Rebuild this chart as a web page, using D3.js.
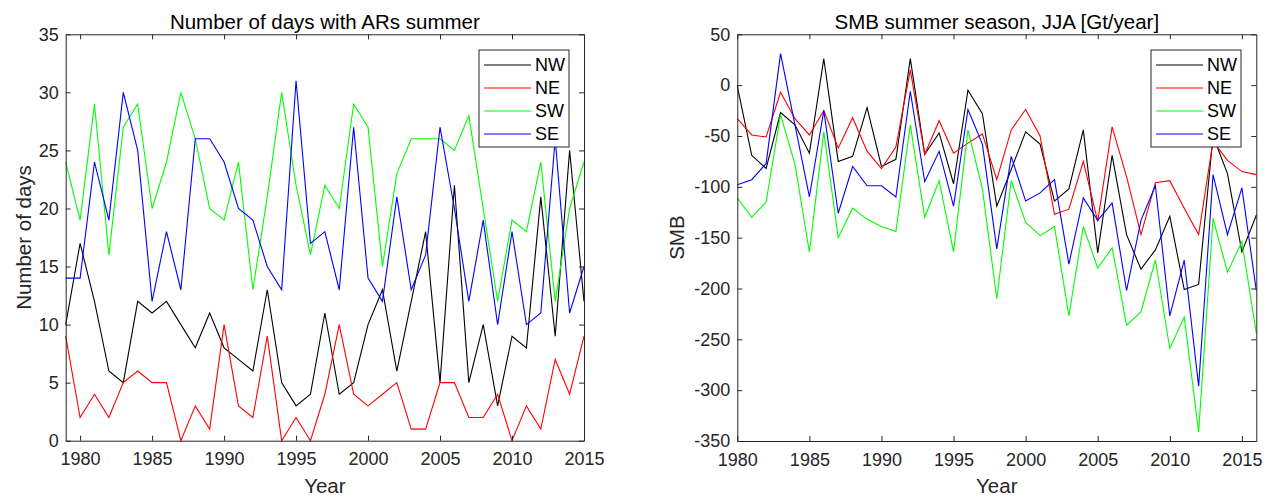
<!DOCTYPE html>
<html>
<head>
<meta charset="utf-8">
<script src="https://d3js.org/d3.v7.min.js"></script>
<style>
body { margin: 0; background: #fff; }
svg { display: block; font-family: 'Liberation Sans', Arial, sans-serif; }
.tick text { fill: #262626; }
</style>
</head>
<body>
<svg id="chart"></svg>
<script>

var width = 1278;
var height = 497;

// Left panel: number of AR days, 1979-2015
var yearsDays = d3.range(1979, 2016);
var daysNW = [10,17,12,6,5,12,11,12,10,8,11,8,7,6,13,5,3,4,11,4,5,10,13,6,12,18,5,22,5,10,3,9,8,21,9,25,12];
var daysNE = [9,2,4,2,5,6,5,5,0,3,1,10,3,2,9,0,2,0,4,10,4,3,4,5,1,1,5,5,2,2,4,0,3,1,7,4,9];
var daysSW = [24,19,29,16,27,29,20,24,30,26,20,19,24,13,21,30,22,16,22,20,29,27,15,23,26,26,26,25,28,20,12,19,18,24,12,20,24];
var daysSE = [14,14,24,19,30,25,12,18,13,26,26,24,20,19,15,13,31,17,18,13,27,14,12,21,13,16,27,20,12,19,10,18,10,11,26,11,15];

// Right panel: summer SMB, 1980-2016
var yearsSMB = d3.range(1980, 2017);
var smbNW = [-1,-69,-82,-27,-39,-67,26,-75,-70,-22,-80,-73,26,-68,-47,-97,-5,-28,-119,-83,-46,-58,-114,-102,-44,-165,-69,-147,-181,-162,-129,-201,-196,-50,-87,-164,-128];
var smbNE = [-33,-49,-51,-7,-33,-49,-25,-62,-32,-65,-82,-61,15,-68,-35,-67,-57,-48,-93,-44,-24,-50,-127,-122,-75,-134,-41,-90,-147,-96,-94,-121,-147,-55,-74,-85,-88];
var smbSW = [-111,-130,-115,-29,-78,-164,-46,-150,-121,-132,-139,-144,-39,-130,-94,-164,-44,-102,-210,-94,-135,-148,-139,-227,-139,-180,-160,-236,-223,-172,-259,-228,-341,-131,-184,-154,-244];
var smbSE = [-98,-93,-77,31,-39,-110,-25,-126,-80,-99,-99,-110,-6,-95,-65,-119,-24,-58,-161,-70,-114,-106,-93,-176,-111,-133,-116,-202,-133,-99,-227,-172,-296,-88,-147,-101,-202];

var regions = ["NW", "NE", "SW", "SE"];
var colors = { "NW": "#000000", "NE": "#ff0000", "SW": "#00ff00", "SE": "#0000ff" };

var svg = d3.select("#chart").attr("width", width).attr("height", height);
svg.append("rect").attr("width", width).attr("height", height).attr("fill", "#fff");

function drawPanel(p) {
	var x = d3.scaleLinear().domain(p.xDomain).range([p.left, p.right]);
	var y = d3.scaleLinear().domain(p.yDomain).range([p.bottom, p.top]);
	var g = svg.append("g");

	// series lines
	var line = d3.line().x(function (d) { return x(d[0]); }).y(function (d) { return y(d[1]); });
	regions.forEach(function (r) {
		var pts = p.years.map(function (yr, i) { return [yr, p.series[r][i]]; });
		g.append("path").datum(pts)
			.attr("d", line)
			.attr("fill", "none")
			.attr("stroke", colors[r])
			.attr("stroke-width", 1.1);
	});

	// axes with inward ticks on all four sides (matlab box)
	var bottom = g.append("g").attr("transform", "translate(0," + p.bottom + ")")
		.call(d3.axisBottom(x).tickValues(p.xTicks).tickSizeInner(-5).tickSizeOuter(0).tickPadding(12).tickFormat(d3.format("d")));
	var top = g.append("g").attr("transform", "translate(0," + p.top + ")")
		.call(d3.axisTop(x).tickValues(p.xTicks).tickSizeInner(-5).tickSizeOuter(0).tickFormat(""));
	var left = g.append("g").attr("transform", "translate(" + p.left + ",0)")
		.call(d3.axisLeft(y).tickValues(p.yTicks).tickSizeInner(-5).tickSizeOuter(0).tickPadding(7).tickFormat(function (d) { return String(d); }));
	var right = g.append("g").attr("transform", "translate(" + p.right + ",0)")
		.call(d3.axisRight(y).tickValues(p.yTicks).tickSizeInner(-5).tickSizeOuter(0).tickFormat(""));

	[bottom, top, left, right].forEach(function (a) {
		a.select(".domain").attr("stroke", "#262626").attr("stroke-width", 1);
		a.selectAll(".tick line").attr("stroke", "#262626");
		a.selectAll(".tick text").attr("font-size", 18).attr("font-family", "'Liberation Sans', Arial, sans-serif");
	});

	// title and axis labels
	var cx = (p.left + p.right) / 2;
	var cy = (p.top + p.bottom) / 2;
	g.append("text").attr("x", cx).attr("y", 29).attr("text-anchor", "middle")
		.attr("font-size", 20.5).attr("fill", "#000").text(p.title);
	g.append("text").attr("x", cx).attr("y", 493).attr("text-anchor", "middle")
		.attr("font-size", 20.5).attr("fill", "#262626").text("Year");
	g.append("text").attr("transform", "translate(" + p.yLabelX + "," + cy + ") rotate(-90)")
		.attr("text-anchor", "middle").attr("font-size", 20.5).attr("fill", "#262626").text(p.yLabel);

	// legend box (opaque, covers lines)
	var lg = g.append("g").attr("transform", "translate(" + p.legendX + ",50)");
	lg.append("rect").attr("width", 90).attr("height", 97)
		.attr("fill", "#fff").attr("stroke", "#262626").attr("stroke-width", 1);
	regions.forEach(function (r, i) {
		var ly = 15 + i * 23;
		lg.append("line").attr("x1", 5).attr("x2", 52).attr("y1", ly).attr("y2", ly)
			.attr("stroke", colors[r]).attr("stroke-width", 1.1);
		lg.append("text").attr("x", 56).attr("y", ly).attr("dy", "0.35em")
			.attr("font-size", 18).attr("fill", "#000").text(r);
	});
}

drawPanel({
	left: 65.7, right: 584, top: 34.3, bottom: 440.7,
	xDomain: [1979, 2015], yDomain: [0, 35],
	xTicks: d3.range(1980, 2016, 5), yTicks: d3.range(0, 36, 5),
	years: yearsDays,
	series: { "NW": daysNW, "NE": daysNE, "SW": daysSW, "SE": daysSE },
	title: "Number of days with ARs summer",
	yLabel: "Number of days", yLabelX: 31,
	legendX: 479
});

drawPanel({
	left: 737.3, right: 1256.3, top: 34.3, bottom: 441,
	xDomain: [1980, 2016], yDomain: [-350, 50],
	xTicks: d3.range(1980, 2016, 5), yTicks: d3.range(-350, 51, 50),
	years: yearsSMB,
	series: { "NW": smbNW, "NE": smbNE, "SW": smbSW, "SE": smbSE },
	title: "SMB summer season, JJA [Gt/year]",
	yLabel: "SMB", yLabelX: 684,
	legendX: 1151
});

</script>
</body>
</html>
